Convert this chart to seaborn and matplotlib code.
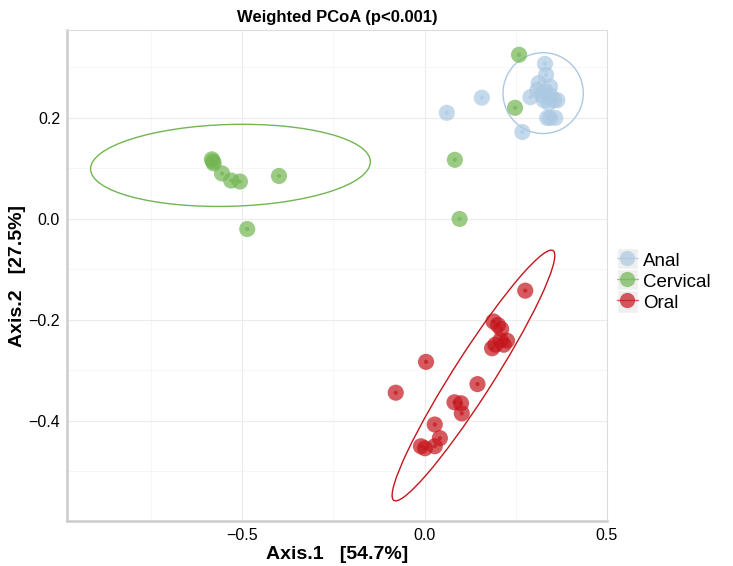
import numpy as np
import pandas as pd
import seaborn as sns
import matplotlib.pyplot as plt
from matplotlib.patches import Ellipse, Rectangle
from matplotlib.lines import Line2D
from matplotlib.legend_handler import HandlerLine2D

# ---- data ----
groups = ["Anal", "Cervical", "Oral"]
colors = ["#acc9e3", "#72b552", "#c4161c"]

anal_x = [0.061, 0.157, 0.268, 0.330, 0.333, 0.313, 0.344, 0.309, 0.331, 0.290,
          0.327, 0.355, 0.364, 0.341, 0.336, 0.358, 0.344, 0.322, 0.345]
anal_y = [0.210, 0.240, 0.172, 0.307, 0.285, 0.269, 0.262, 0.255, 0.252, 0.241,
          0.235, 0.235, 0.235, 0.229, 0.200, 0.200, 0.200, 0.245, 0.245]

cerv_x = [0.259, 0.248, 0.083, 0.096, -0.583, -0.580, -0.578, -0.555, -0.530,
          -0.506, -0.399, -0.486]
cerv_y = [0.325, 0.220, 0.117, 0.000, 0.118, 0.114, 0.110, 0.090, 0.076,
          0.074, 0.085, -0.020]

oral_x = [0.276, 0.189, 0.201, 0.210, 0.226, 0.208, 0.194, 0.185, 0.217, 0.004,
          -0.079, 0.145, 0.082, 0.100, 0.102, 0.028, 0.042, 0.028, -0.010, 0.001]
oral_y = [-0.142, -0.203, -0.210, -0.218, -0.241, -0.240, -0.249, -0.256, -0.249,
          -0.283, -0.344, -0.327, -0.363, -0.365, -0.385, -0.407, -0.434, -0.450,
          -0.450, -0.454]

# confidence ellipses (center x, center y, width, height, angle) in data units
ell_cx = [0.325, -0.532, 0.134]
ell_cy = [0.249, 0.106, -0.310]
ell_w = [0.22, 0.767, 0.66]
ell_h = [0.16, 0.162, 0.098]
ell_ang = [0.0, 1.1, 48.2]

df = pd.DataFrame({
    "Axis1": anal_x + cerv_x + oral_x,
    "Axis2": anal_y + cerv_y + oral_y,
    "Group": ["Anal"] * len(anal_x) + ["Cervical"] * len(cerv_x)
    + ["Oral"] * len(oral_x),
})
palette = dict(zip(groups, colors))

sns.set_style("white")
plt.rcParams["font.family"] = ["Liberation Sans", "DejaVu Sans"]
plt.rcParams["text.color"] = "black"
plt.rcParams["axes.labelcolor"] = "black"

fig = plt.figure(figsize=(7.33, 5.66), dpi=100)
ax = fig.add_axes([0.0914, 0.0795, 0.7367, 0.8675])

sns.scatterplot(data=df, x="Axis1", y="Axis2", hue="Group", palette=palette,
                s=135, alpha=0.7, linewidth=0, legend=False, ax=ax, zorder=3)
sns.scatterplot(data=df, x="Axis1", y="Axis2", hue="Group", palette=palette,
                s=9, alpha=0.7, linewidth=0, legend=False, ax=ax, zorder=4)

for g, c, cx, cy, w, h, a in zip(groups, colors, ell_cx, ell_cy, ell_w,
                                 ell_h, ell_ang):
    ax.add_patch(Ellipse((cx, cy), w, h, angle=a, fill=False, edgecolor=c,
                         linewidth=1.0, zorder=2))

ax.set_xlim(-0.98, 0.5)
ax.set_ylim(-0.598, 0.374)
ax.set_xticks([-0.5, 0.0, 0.5])
ax.set_xticklabels(["\u22120.5", "0.0", "0.5"])
ax.set_yticks([-0.4, -0.2, 0.0, 0.2])
ax.set_yticklabels(["\u22120.4", "\u22120.2", "0.0", "0.2"])
ax.set_xticks([-0.75, -0.25, 0.25], minor=True)
ax.set_yticks([-0.5, -0.3, -0.1, 0.1, 0.3], minor=True)
ax.grid(True, which="major", color="#ececec", linewidth=0.8)
ax.grid(True, which="minor", color="#f5f5f5", linewidth=0.6)
ax.set_axisbelow(True)
ax.tick_params(axis="both", which="major", labelsize=11.5, length=3,
               color="#bbbbbb", width=0.8, pad=2, labelcolor="black")
ax.tick_params(axis="both", which="minor", length=0)
for side in ["top", "right"]:
    ax.spines[side].set_color("#dddddd")
    ax.spines[side].set_linewidth(0.8)
for side in ["left", "bottom"]:
    ax.spines[side].set_color("#cccccc")
    ax.spines[side].set_linewidth(1.8)

ax.set_xlabel("Axis.1   [54.7%]", fontsize=14, fontweight="bold", labelpad=2)
ax.set_ylabel("Axis.2   [27.5%]", fontsize=14, fontweight="bold", labelpad=2)
ax.set_title("Weighted PCoA (p<0.001)", fontsize=12, fontweight="bold", pad=6)


class KeyHandler(HandlerLine2D):
    def create_artists(self, legend, orig_handle, xdescent, ydescent, width,
                       height, fontsize, trans):
        bg = Rectangle((-xdescent, -ydescent - 2), width, height + 4,
                       facecolor="#efefef", edgecolor="white", linewidth=1.0,
                       transform=trans)
        arts = super().create_artists(legend, orig_handle, xdescent, ydescent,
                                      width, height, fontsize, trans)
        return [bg] + arts


handles = []
for g, c in zip(groups, colors):
    handles.append(Line2D([0], [0], color=c, linewidth=1.0, marker="o",
                          markersize=11, markerfacecolor=c,
                          markeredgewidth=0, alpha=0.7, label=g))
leg = fig.legend(handles=handles, loc="center left",
                 bbox_to_anchor=(0.824, 0.503), frameon=False, fontsize=13.5,
                 handlelength=1.1, handleheight=1.0, handletextpad=0.3,
                 labelspacing=0.12, borderpad=0.2,
                 handler_map={Line2D: KeyHandler(numpoints=1)})

fig.savefig("out.png", dpi=100)
